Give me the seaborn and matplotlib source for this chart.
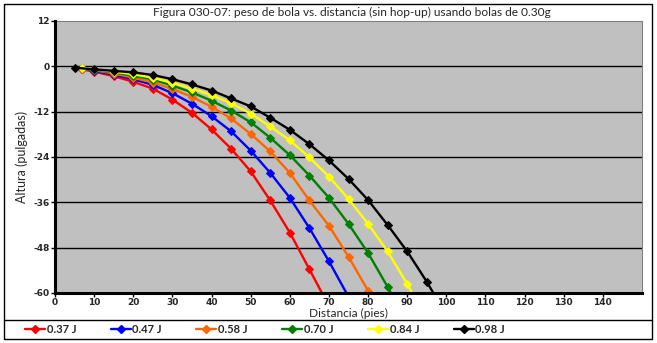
import matplotlib
matplotlib.use("Agg")
import matplotlib.pyplot as plt
import seaborn as sns
import pandas as pd
from matplotlib.patches import Rectangle
from matplotlib.lines import Line2D

sns.set_theme(style="white")
plt.rcParams['font.family'] = ['DejaVu Sans']
plt.rcParams['axes.unicode_minus'] = False
NARROW = ['Lato', 'DejaVu Sans']

title = "Figura 030-07: peso de bola vs. distancia (sin hop-up) usando bolas de 0.30g"
xlabel = "Distancia (pies)"
ylabel = "Altura (pulgadas)"

labels = ["0.37 J", "0.47 J", "0.58 J", "0.70 J", "0.84 J", "0.98 J"]
colors = ["#FF0000", "#0000FF", "#FF6600", "#008000", "#FFFF00", "#000000"]

x_037 = [7, 10, 15, 20, 25, 30, 35, 40, 45, 50, 55, 60, 65, 70]
y_037 = [-0.8, -1.4, -2.6, -4.1, -5.9, -8.8, -12.3, -16.7, -21.8, -27.8, -35.5, -44.0, -53.7, -63.5]

x_047 = [7, 10, 15, 20, 25, 30, 35, 40, 45, 50, 55, 60, 65, 70, 75]
y_047 = [-0.7, -1.2, -2.2, -3.4, -4.9, -7.1, -9.9, -13.2, -17.2, -22.3, -28.2, -34.8, -42.8, -51.6, -61.0]

x_058 = [7, 10, 15, 20, 25, 30, 35, 40, 45, 50, 55, 60, 65, 70, 75, 80, 85]
y_058 = [-0.6, -1.0, -1.9, -3.0, -4.3, -6.0, -8.1, -10.7, -13.8, -17.9, -22.5, -28.2, -35.5, -42.2, -50.4, -59.4, -70.0]

x_070 = [7, 10, 15, 20, 25, 30, 35, 40, 45, 50, 55, 60, 65, 70, 75, 80, 85, 90]
y_070 = [-0.5, -0.9, -1.6, -2.5, -3.5, -5.1, -6.9, -9.1, -11.7, -14.8, -18.9, -23.5, -28.9, -34.8, -41.7, -49.4, -58.4, -68.0]

x_084 = [7, 10, 15, 20, 25, 30, 35, 40, 45, 50, 55, 60, 65, 70, 75, 80, 85, 90, 95]
y_084 = [-0.4, -0.8, -1.4, -2.1, -3.0, -4.4, -5.9, -7.6, -9.8, -12.5, -15.9, -19.6, -24.1, -29.2, -35.1, -41.7, -49.0, -57.6, -67.0]

x_098 = [5, 10, 15, 20, 25, 30, 35, 40, 45, 50, 55, 60, 65, 70, 75, 80, 85, 90, 95, 100]
y_098 = [-0.35, -0.8, -1.2, -1.6, -2.3, -3.4, -4.8, -6.4, -8.5, -10.6, -13.6, -16.8, -20.6, -24.9, -29.8, -35.4, -42.0, -49.0, -57.0, -66.0]

xs = [x_037, x_047, x_058, x_070, x_084, x_098]
ys = [y_037, y_047, y_058, y_070, y_084, y_098]

x_ticks = list(range(0, 150, 10))
y_ticks = [12, 0, -12, -24, -36, -48, -60]

W, H = 657, 343
fig = plt.figure(figsize=(W / 100, H / 100), dpi=100)
fig.patch.set_facecolor("white")
ax = fig.add_axes([55 / W, 1 - 293 / H, (642 - 55) / W, (293 - 21) / H])
ax.set_facecolor("#C0C0C0")

for xv, yv, lab, col in zip(xs, ys, labels, colors):
    df = pd.DataFrame({"x": xv, "y": yv})
    sns.lineplot(data=df, x="x", y="y", ax=ax, color=col, label=lab,
                 marker="D", markersize=4.5, markeredgecolor=col,
                 linewidth=1.7, sort=False, legend=False, zorder=3)

ax.set_xlim(0, 150)
ax.set_ylim(-60, 12)
ax.set_xticks(x_ticks)
ax.set_yticks(y_ticks)
ax.set_xticklabels([str(v) for v in x_ticks])
ax.set_yticklabels([str(v) for v in y_ticks])
for yv in y_ticks:
    if -60 < yv < 12:
        ax.axhline(yv, color="black", linewidth=1.0, zorder=1)
ax.tick_params(axis="both", which="both", direction="out", length=3, width=1,
               color="black", labelsize=6.5, pad=1.0, left=True, bottom=True)
ax.tick_params(axis="x", pad=0.5)
for t in ax.get_xticklabels() + ax.get_yticklabels():
    t.set_fontweight("bold")

for s in ["left", "bottom"]:
    ax.spines[s].set_color("black")
    ax.spines[s].set_linewidth(2.2)
    ax.spines[s].set_zorder(4)
for s in ["top", "right"]:
    ax.spines[s].set_color("#808080")
    ax.spines[s].set_linewidth(0.8)

ax.set_xlabel(xlabel, fontsize=8.6, family=NARROW)
ax.xaxis.set_label_coords(0.5, -0.056)
ax.set_ylabel(ylabel, fontsize=9, family=NARROW)
ax.yaxis.set_label_coords(-0.046, 0.5)
fig.text(352 / W, 1 - 12 / H, title, ha="center", va="center", fontsize=8.6,
         family=NARROW)

# outer border and legend band
fig.patches.append(Rectangle((4 / W, 1 - 339 / H), (652 - 4) / W, (339 - 4) / H,
                             transform=fig.transFigure, fill=False,
                             edgecolor="black", linewidth=1.0))
fig.lines.append(Line2D([4 / W, 652 / W], [1 - 320 / H, 1 - 320 / H],
                        transform=fig.transFigure, color="black", linewidth=1.0))

handles = [Line2D([], [], color=c, marker="D", markersize=4.5, linewidth=1.7)
           for c in colors]
leg = fig.legend(handles, labels, loc="center left",
                 bbox_to_anchor=(25 / W, 1 - 329.5 / H),
                 ncol=6, frameon=False, borderaxespad=0, borderpad=0,
                 handlelength=1.8, handletextpad=0.15, columnspacing=3.1,
                 prop={"family": NARROW, "weight": "bold", "size": 8})

fig.savefig("out.png", dpi=100)
